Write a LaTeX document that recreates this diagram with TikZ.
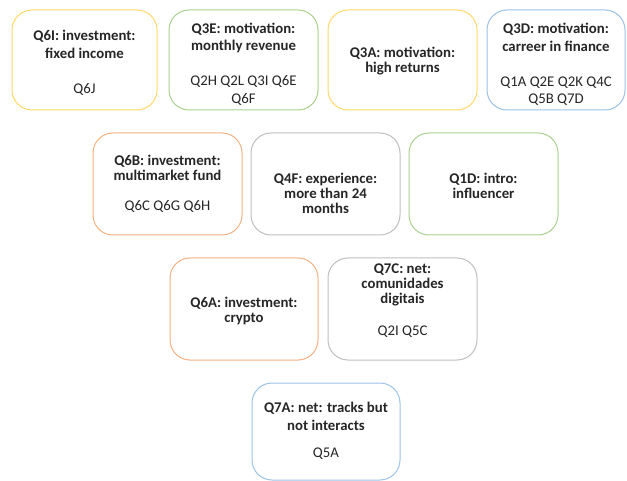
\documentclass[tikz,border=0pt]{standalone}
\usepackage{fontspec}
\setmainfont{Carlito}
\definecolor{cyel}{HTML}{FFD966}
\definecolor{cgrn}{HTML}{A9D18E}
\definecolor{cblu}{HTML}{9DC3E6}
\definecolor{corg}{HTML}{F4B183}
\definecolor{cgry}{HTML}{BFBFBF}
\definecolor{ctxt}{HTML}{262626}
\tikzset{
  card/.style={draw=#1, line width=1pt, rounded corners=20pt, fill=white},
  cardtext/.style={align=center, text=ctxt, font=\fontsize{14.8}{#1}\selectfont, inner sep=0pt},
  cardtext/.default=17.6
}
\begin{document}
\begin{tikzpicture}[x=1pt,y=-1pt]
\useasboundingbox (0,0) rectangle (627,481);
% row 1
\draw[card=cyel] (12,10) rectangle (157,110);
\node[cardtext] (q6i) at (84.5,63) {\textbf{Q6I: investment:}\\\textbf{fixed income}\\[17.6pt]Q6J};
\draw[card=cgrn] (169,10) rectangle (318,110);
\node[cardtext] (q3e) at (243.5,64) {\textbf{Q3E: motivation:}\\\textbf{monthly revenue}\\[17.6pt]Q2H Q2L Q3I Q6E\\Q6F};
\draw[card=cyel] (328,10) rectangle (477,110);
\node[cardtext=15] (q3a) at (402.5,61) {\textbf{Q3A: motivation:}\\\textbf{high returns}};
\draw[card=cblu] (487,10) rectangle (625,110);
\node[cardtext] (q3d) at (556,64.5) {\textbf{Q3D: motivation:}\\\textbf{carreer in finance}\\[17.6pt]Q1A Q2E Q2K Q4C\\Q5B Q7D};
% row 2
\draw[card=corg] (93,133) rectangle (242,235);
\node[cardtext=15] (q6b) at (167.5,184) {\textbf{Q6B: investment:}\\\textbf{multimarket fund}\\[15pt]Q6C Q6G Q6H};
\draw[card=cgry] (251,133) rectangle (400,235);
\node[cardtext=15] (q4f) at (325.5,193.5) {\textbf{Q4F: experience:}\\\textbf{more than 24}\\\textbf{months}};
\draw[card=cgrn] (409,133) rectangle (558,235);
\node[cardtext=15] (q1d) at (483.5,186) {\textbf{Q1D: intro:}\\\textbf{influencer}};
% row 3
\draw[card=corg] (170,258) rectangle (318,360);
\node[cardtext=15] (q6a) at (244,311) {\textbf{Q6A: investment:}\\\textbf{crypto}};
\draw[card=cgry] (328,258) rectangle (477,360);
\node[cardtext=15] (q7c) at (402.5,300.5) {\textbf{Q7C: net:}\\\textbf{comunidades}\\\textbf{digitais}\\[17pt]Q2I Q5C};
% row 4
\draw[card=cblu] (252,383) rectangle (400,480);
\node[cardtext=18] (q7a) at (326,431) {\textbf{Q7A: net: tracks but}\\\textbf{not interacts}\\[9pt]Q5A};
\end{tikzpicture}
\end{document}
